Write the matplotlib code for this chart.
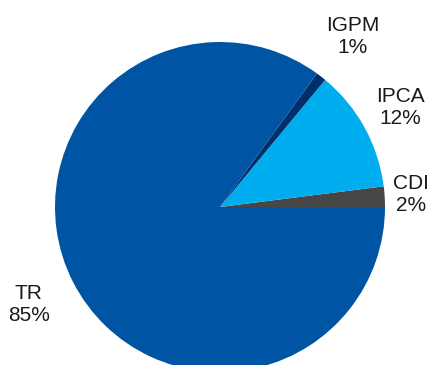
import numpy as np
import matplotlib.pyplot as plt

plt.rcParams['font.family'] = ['Liberation Sans', 'DejaVu Sans']

# slice data (counter-clockwise from 3 o'clock)
labels = ['CDI', 'IPCA', 'IGPM', 'TR']
shares = [2, 12, 1, 85]
colors = ['#464646', '#00adef', '#002f6c', '#0054a4']
label_dist = [1.16, 1.25, 1.31, 1.30]

fig = plt.figure(figsize=(4.32, 3.65), dpi=100)
ax = fig.add_axes([0, 0, 1, 1])

R = 165
cx, cy = 220, 365 - 207
wedges, _ = ax.pie(shares, colors=colors, startangle=0, counterclock=True,
                   radius=R, center=(cx, cy), frame=True,
                   wedgeprops=dict(linewidth=0))

# labels placed around the pie
for w, lab, val, d in zip(wedges, labels, shares, label_dist):
    ang = np.deg2rad((w.theta1 + w.theta2) / 2)
    x = cx + d * R * np.cos(ang)
    y = cy + d * R * np.sin(ang)
    ax.text(x, y, f'{lab}\n{val}%', ha='center', va='center',
            fontsize=15, color='#1a1a1a')

ax.set_xlim(0, 432)
ax.set_ylim(0, 365)
ax.set_aspect('equal')
ax.axis('off')

fig.savefig('out.png', dpi=100)
